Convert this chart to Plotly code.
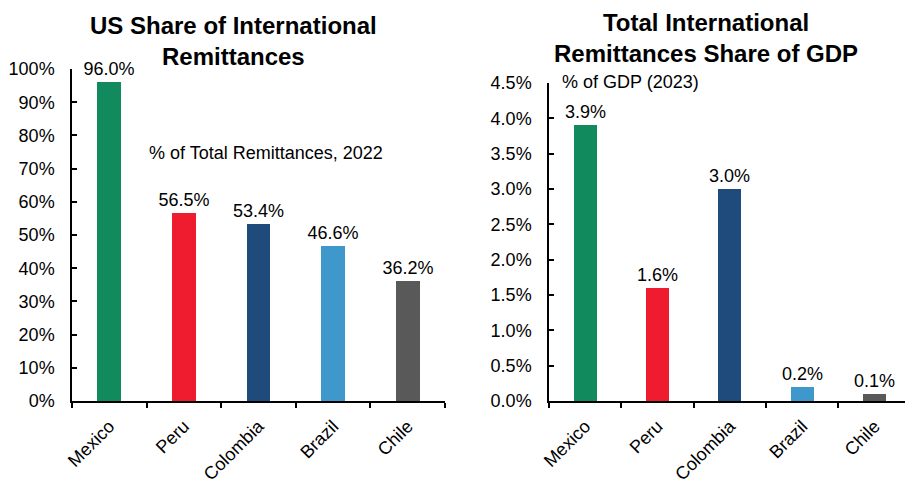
import plotly.graph_objects as go

countries = ["Mexico", "Peru", "Colombia", "Brazil", "Chile"]
us_share = [96.0, 56.5, 53.4, 46.6, 36.2]
gdp_share = [3.9, 1.6, 3.0, 0.2, 0.1]
bar_colors = ["#118a5e", "#ee1c2e", "#1f4a7c", "#3e98cc", "#595959"]

FONT = "Liberation Sans, Arial, sans-serif"
W, H = 905, 481

def px_x(p):
    return p / W

def px_y(p):
    return 1 - p / H

fig = go.Figure()

for xa, ya, vals in (("x", "y", us_share), ("x2", "y2", gdp_share)):
    fig.add_trace(go.Bar(
        x=countries, y=vals, marker_color=bar_colors, marker_line_width=0,
        width=0.32, text=[f"{v:.1f}%" for v in vals], textposition="outside",
        constraintext="none", textfont=dict(size=18, color="#000", family=FONT),
        cliponaxis=False, xaxis=xa, yaxis=ya, showlegend=False,
    ))

line_style = dict(showline=True, linecolor="#000", linewidth=1.5,
                  ticklen=5, tickwidth=1.5, tickcolor="#000",
                  showgrid=False, zeroline=False, automargin=False,
                  tickfont=dict(size=18, color="#000", family=FONT))

x_style = dict(tickson="boundaries", tickangle=-45, ticks="outside",
               ticklabelstandoff=6, **line_style)
y_style = dict(ticks="inside", ticklabelstandoff=12, ticksuffix="%", **line_style)

fig.update_layout(
    width=W, height=H, margin=dict(l=0, r=0, t=0, b=0),
    paper_bgcolor="white", plot_bgcolor="white",
    font=dict(family=FONT, color="#000"),
    bargap=0,
    xaxis=dict(domain=[px_x(72), px_x(445)], range=[-0.5, 4.5], anchor="y", **x_style),
    yaxis=dict(domain=[px_y(401), px_y(69)], range=[0, 100], dtick=10,
               anchor="x", **y_style),
    xaxis2=dict(domain=[px_x(549), 1.0], range=[-0.5, 4.42], anchor="y2", **x_style),
    yaxis2=dict(domain=[px_y(401), px_y(83)], range=[0, 4.5], dtick=0.5,
                tickformat=".1f", anchor="x2", **y_style),
    annotations=[
        dict(text="<b>US Share of International<br>Remittances</b>",
             x=px_x(233), y=px_y(41), xref="paper", yref="paper",
             xanchor="center", yanchor="middle",
             showarrow=False, font=dict(size=24, family=FONT), align="center"),
        dict(text="<b>Total International<br>Remittances Share of GDP</b>",
             x=px_x(706), y=px_y(38), xref="paper", yref="paper",
             xanchor="center", yanchor="middle",
             showarrow=False, font=dict(size=24, family=FONT), align="center"),
        dict(text="% of Total Remittances, 2022",
             x=px_x(266), y=px_y(153), xref="paper", yref="paper",
             xanchor="center", yanchor="middle",
             showarrow=False, font=dict(size=18, family=FONT)),
        dict(text="% of GDP (2023)",
             x=px_x(560), y=px_y(82), xref="paper", yref="paper",
             xanchor="left", yanchor="middle",
             showarrow=False, font=dict(size=18, family=FONT)),
    ],
)

fig.write_html("out.html")
